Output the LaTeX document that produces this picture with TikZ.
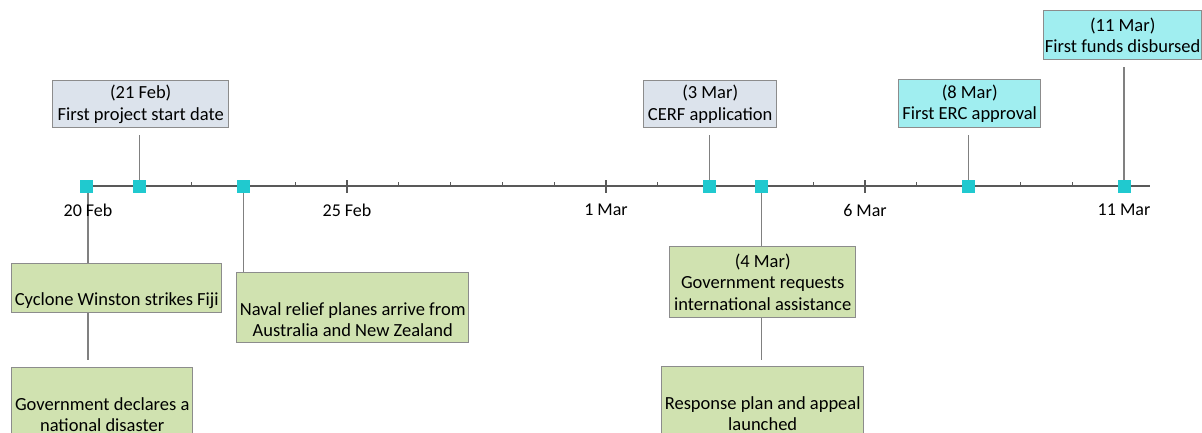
\documentclass[tikz,border=0pt]{standalone}
\usepackage{fontspec}
\setmainfont{Carlito}
\definecolor{axisgray}{HTML}{595959}
\definecolor{linkgray}{HTML}{808080}
\definecolor{boxedge}{HTML}{8C8C8C}
\definecolor{slatefill}{HTML}{DCE3EC}
\definecolor{greenfill}{HTML}{D0E2B0}
\definecolor{cyanfill}{HTML}{A0EEF0}
\definecolor{markcyan}{HTML}{20C9CF}
\pgfdeclarelayer{bg}
\pgfsetlayers{bg,main}
\tikzset{
  evbox/.style={draw=boxedge, line width=1.4pt, inner sep=0pt, anchor=north west,
    align=center, font=\fontsize{18.5}{21.7}\selectfont, text=black},
  slatebox/.style={evbox, fill=slatefill},
  greenbox/.style={evbox, fill=greenfill},
  cyanbox/.style={evbox, fill=cyanfill},
  daymark/.style={fill=markcyan, minimum size=13pt, inner sep=0pt},
  daylabel/.style={font=\fontsize{18}{20}\selectfont, text=black},
  link/.style={draw=linkgray, line width=1.3pt},
  axisline/.style={draw=axisgray, line width=1.4pt},
}
\begin{document}
\begin{tikzpicture}[x=1pt, y=-1pt]
\useasboundingbox (0,0) rectangle (1202,433);
% day spacing: 51.8 units per day, 20 Feb at x = 88
\def\dayx#1{88+#1*51.8}

% time axis
\coordinate (axL) at (88,186);
\coordinate (axR) at (1150,186);
\draw[axisline] (axL) -- (axR);
% minor ticks, one per day
\foreach \d in {1,...,19}{
  \draw[axisgray, line width=1.2pt] ({\dayx{\d}},182) -- ({\dayx{\d}},186);
}
% major ticks every five days
\foreach \d in {0,5,10,15,20}{
  \draw[axisgray, line width=1.2pt] ({\dayx{\d}},180) -- ({\dayx{\d}},193);
}
\node[daylabel] (l0)  at ({\dayx{0}},210)  {20 Feb};
\node[daylabel] (l5)  at ({\dayx{5}},210)  {25 Feb};
\node[daylabel] (l10) at ({\dayx{10}},210) {1 Mar};
\node[daylabel] (l15) at ({\dayx{15}},210) {6 Mar};
\node[daylabel] (l20) at ({\dayx{20}},210) {11 Mar};

% event markers
\node[daymark] (m0)  at ({\dayx{0}-1.5},186.5) {};
\node[daymark] (m1)  at ({\dayx{1}},186.5) {};
\node[daymark] (m3)  at ({\dayx{3}},186.5) {};
\node[daymark] (m12) at ({\dayx{12}},186.5) {};
\node[daymark] (m13) at ({\dayx{13}},186.5) {};
\node[daymark] (m17) at ({\dayx{17}},186.5) {};
\node[daymark] (m20) at ({\dayx{20}},186.5) {};

% events above the axis
\node[slatebox, minimum width=176pt, minimum height=47pt] (startdate) at (52,80)
  {(21 Feb)\\First project start date};
\node[slatebox, minimum width=133pt, minimum height=47pt] (cerf) at (643,80)
  {(3 Mar)\\CERF application};
\node[cyanbox, minimum width=142pt, minimum height=48pt] (erc) at (898,79)
  {(8 Mar)\\First ERC approval};
\node[cyanbox, minimum width=158pt, minimum height=49pt] (funds) at (1043,10)
  {(11 Mar)\\First funds disbursed};

% events below the axis
\node[greenbox, minimum width=210pt, minimum height=49pt] (cyclone) at (11,263)
  {\strut\\Cyclone Winston strikes Fiji};
\node[greenbox, minimum width=181pt, minimum height=70pt] (declare) at (11,367)
  {\strut\\Government declares a\\national disaster};
\node[greenbox, minimum width=232pt, minimum height=70pt] (naval) at (236,272)
  {\strut\\Naval relief planes arrive from\\Australia and New Zealand};
\node[greenbox, minimum width=186pt, minimum height=71pt] (requests) at (669,246)
  {(4 Mar)\\Government requests\\international assistance};
\node[greenbox, minimum width=202pt, minimum height=70pt] (appeal) at (661,366)
  {\strut\\Response plan and appeal\\launched};

% connectors
\begin{pgfonlayer}{bg}
  \draw[link] ([yshift=-7pt]startdate.south -| m1) -- (m1.center);
  \draw[link] ([yshift=-7pt]cerf.south -| m12) -- (m12.center);
  \draw[link] ([yshift=-7pt]erc.south -| m17) -- (m17.center);
  \draw[link] ([yshift=-7pt]funds.south -| m20) -- (m20.center);
  \draw[link] (m0.center -| l0) -- (cyclone.north -| l0);
  \draw[link] (cyclone.south -| l0) -- ([yshift=-47pt]cyclone.south -| l0);
  \draw[link] (m3.center) -- (naval.north -| m3);
  \draw[link] (m13.center) -- (requests.north -| m13);
  \draw[link] (requests.south -| m13) -- ([yshift=-42pt]requests.south -| m13);
\end{pgfonlayer}
\end{tikzpicture}
\end{document}
